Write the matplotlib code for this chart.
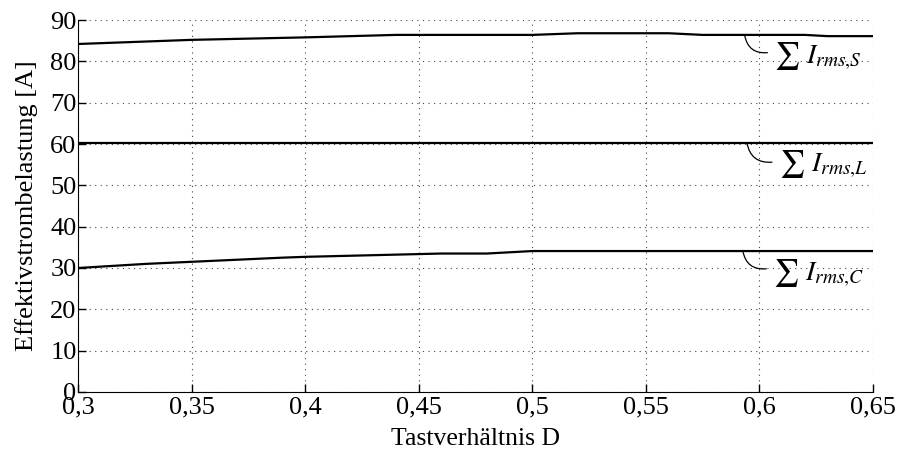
import matplotlib
matplotlib.use("Agg")
import matplotlib.pyplot as plt
from matplotlib.ticker import FuncFormatter

# duty cycle D and rms current sums
d_s = [0.30, 0.35, 0.40, 0.44, 0.50, 0.52, 0.56, 0.575, 0.62, 0.63, 0.65]
i_s = [84.2, 85.2, 85.8, 86.4, 86.4, 86.8, 86.8, 86.4, 86.4, 86.1, 86.1]

d_l = [0.30, 0.65]
i_l = [60.3, 60.3]

d_c = [0.30, 0.33, 0.35, 0.39, 0.40, 0.46, 0.48, 0.50, 0.65]
i_c = [30.0, 31.0, 31.5, 32.5, 32.7, 33.5, 33.5, 34.1, 34.1]

labels = ['\u2211 $I_{rms{,}S}$', '\u2211 $I_{rms{,}L}$', '\u2211 $I_{rms{,}C}$']
x_ticks = [0.3, 0.35, 0.4, 0.45, 0.5, 0.55, 0.6, 0.65]
y_ticks = [0, 10, 20, 30, 40, 50, 60, 70, 80, 90]

plt.rcParams['font.family'] = ['Liberation Serif', 'DejaVu Serif']
plt.rcParams['mathtext.fontset'] = 'stix'

fig = plt.figure(figsize=(9.06, 4.53), dpi=100)
ax = fig.add_axes([0.0861, 0.1347, 0.8775, 0.8211])

for d, i in [(d_s, i_s), (d_l, i_l), (d_c, i_c)]:
    ax.plot(d, i, color='black', lw=1.6)

# labels with small curved leaders
anno = [((0.5935, 86.3), (0.6035, 82.1)),
        ((0.5945, 60.3), (0.6055, 55.6)),
        ((0.5927, 34.1), (0.6030, 29.8))]
shift = [1.0, 0.7, 1.2]
for lab, (xy, xyt), dy in zip(labels, anno, shift):
    ax.annotate('', xy=xy, xytext=xyt,
                arrowprops=dict(arrowstyle='-', color='black', lw=0.9,
                                shrinkA=0, shrinkB=0,
                                connectionstyle='arc3,rad=-0.45'))
    ax.text(xyt[0] + 0.003, xyt[1] + 0.2 - dy, lab, fontsize=20,
            family='STIXGeneral', ha='left', va='center')

ax.set_xlim(0.3, 0.65)
ax.set_ylim(0, 90)
ax.set_xticks(x_ticks)
ax.set_yticks(y_ticks)
ax.xaxis.set_major_formatter(FuncFormatter(lambda v, p: ('%g' % v).replace('.', ',')))
ax.grid(True, linestyle=(0, (1, 4)), color='#444444', lw=0.8)
ax.spines['top'].set_visible(False)
ax.spines['right'].set_visible(False)
ax.tick_params(direction='in', length=6, width=1, labelsize=19)
ax.tick_params(axis='x', pad=3)
ax.tick_params(axis='y', pad=1)
ax.set_xlabel('Tastverhältnis D', fontsize=18.5, labelpad=7)
ax.set_ylabel('Effektivstrombelastung [A]', fontsize=19, labelpad=9)

fig.savefig('out.png', dpi=100)
